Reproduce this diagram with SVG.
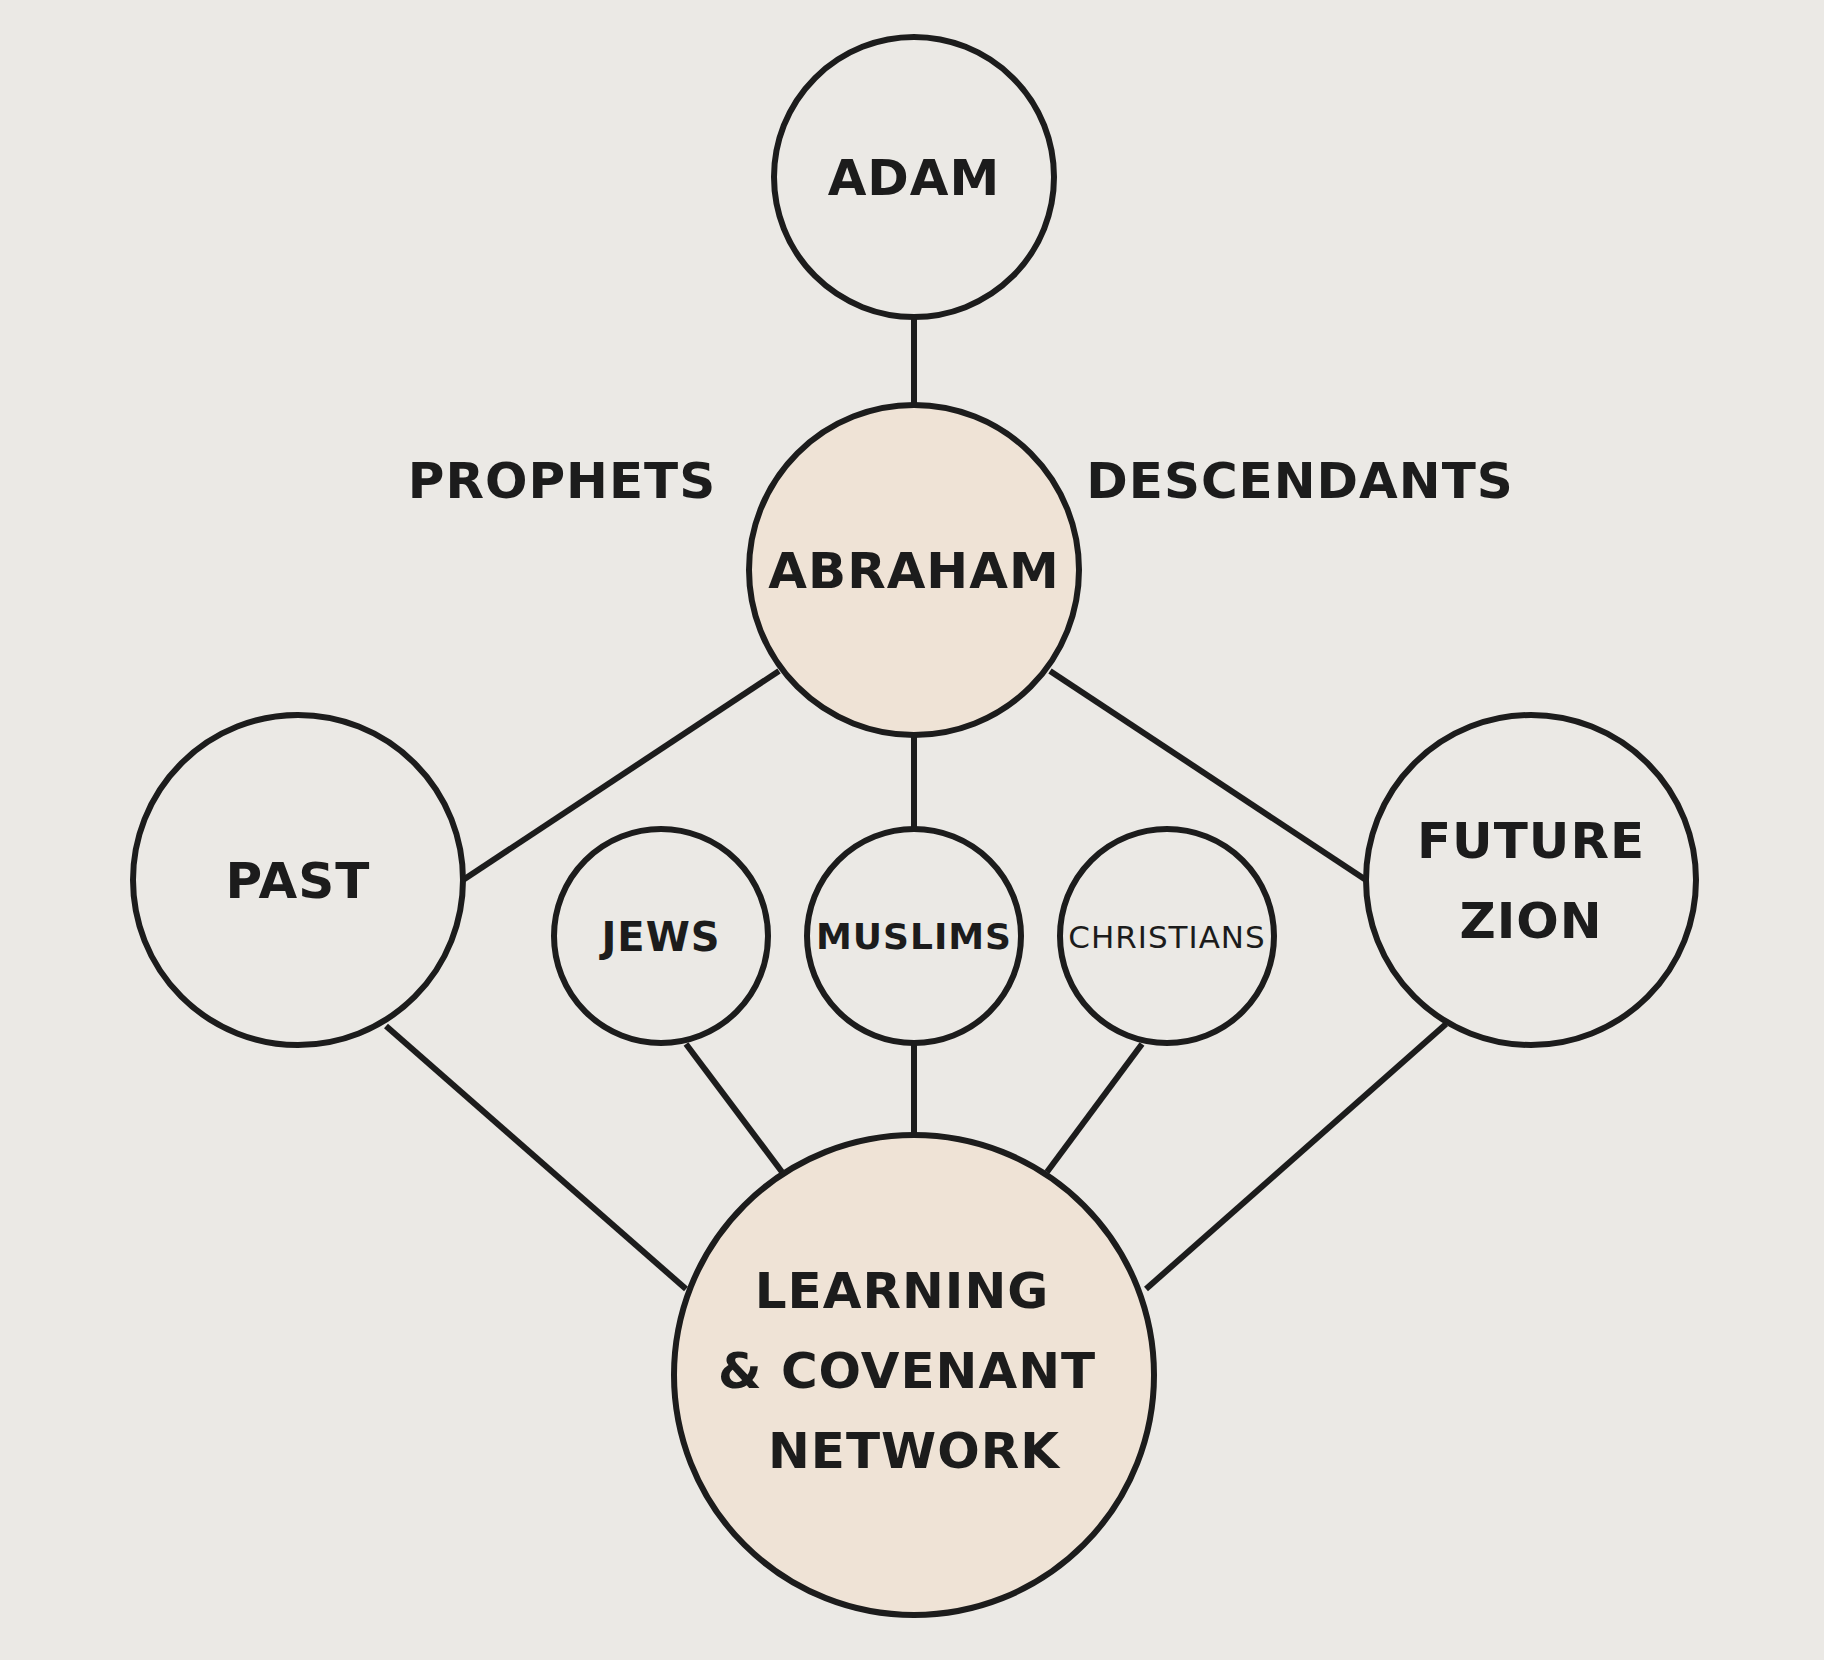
<svg xmlns="http://www.w3.org/2000/svg" width="1824" height="1660" viewBox="0 0 1824 1660">
<style>
.n{fill:none;stroke:#1c1c1c;stroke-width:6}
.h{fill:#efe3d6;stroke:#1c1c1c;stroke-width:6}
.e{stroke:#1c1c1c;stroke-width:6}
text{font-family:"DejaVu Sans","Liberation Sans",sans-serif;font-weight:bold;fill:#1c1c1c;text-anchor:middle;letter-spacing:1px}
</style>
<rect width="1824" height="1660" fill="#ebe9e5"/>
<g id="connectors">
<line class="e" x1="914" y1="317" x2="914" y2="405"/>
<line class="e" x1="779" y1="671" x2="463" y2="880"/>
<line class="e" x1="1050" y1="671" x2="1366" y2="880"/>
<line class="e" x1="914" y1="735" x2="914" y2="829"/>
<line class="e" x1="386" y1="1026" x2="686" y2="1289"/>
<line class="e" x1="686" y1="1044" x2="782" y2="1172"/>
<line class="e" x1="914" y1="1043" x2="914" y2="1135"/>
<line class="e" x1="1142" y1="1044" x2="1047" y2="1172"/>
<line class="e" x1="1446" y1="1024" x2="1146" y2="1289"/>
</g>
<g id="adam"><circle class="n" cx="914" cy="177" r="140"/><text x="914" y="195" font-size="50">ADAM</text></g>
<g id="abraham"><circle class="h" cx="914" cy="570" r="165"/><text x="914" y="588" font-size="50">ABRAHAM</text></g>
<g id="prophets"><text x="562" y="498" font-size="50">PROPHETS</text></g>
<g id="descendants"><text x="1300" y="498" font-size="50">DESCENDANTS</text></g>
<g id="past"><circle class="n" cx="298" cy="880" r="165"/><text x="298" y="898" font-size="50">PAST</text></g>
<g id="future"><circle class="n" cx="1531" cy="880" r="165"/><text x="1531" y="858" font-size="50">FUTURE</text><text x="1531" y="938" font-size="50">ZION</text></g>
<g id="jews"><circle class="n" cx="661" cy="936" r="107"/><text x="661" y="951" font-size="40">JEWS</text></g>
<g id="muslims"><circle class="n" cx="914" cy="936" r="107"/><text x="914" y="949" font-size="36" letter-spacing="-1">MUSLIMS</text></g>
<g id="christians"><circle class="n" cx="1167" cy="936" r="107"/><text x="1167" y="948" font-size="31" letter-spacing="-1" style="font-weight:normal">CHRISTIANS</text></g>
<g id="learning"><circle class="h" cx="914" cy="1375" r="240"/><text x="902" y="1308" font-size="50">LEARNING</text><text x="907" y="1388" font-size="50">&amp; COVENANT</text><text x="914" y="1468" font-size="50">NETWORK</text></g>
</svg>
